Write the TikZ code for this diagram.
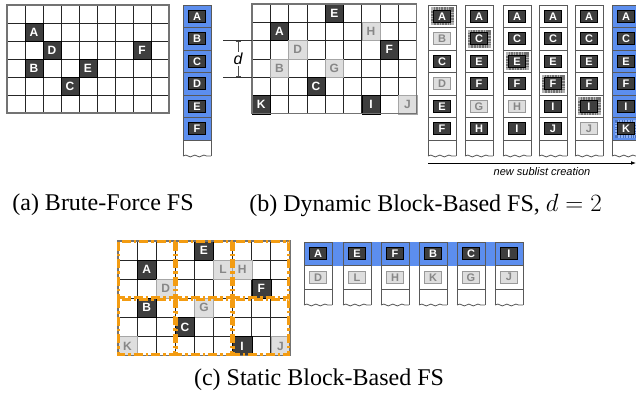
\documentclass[tikz,border=0pt]{standalone}
\usepackage{fontspec}
\setmainfont{Liberation Serif}
\setsansfont{Liberation Sans}
\usepackage{tikz}
\usetikzlibrary{decorations.pathmorphing,arrows.meta}
\definecolor{celldark}{RGB}{62,62,62}
\definecolor{lightfill}{RGB}{222,222,222}
\definecolor{lighttext}{RGB}{135,135,135}
\definecolor{fsblue}{RGB}{92,142,238}
\definecolor{blockorange}{RGB}{243,156,18}
\tikzstyle{gridlines} = [draw=black!85, line width=0.7pt]
\tikzstyle{gridframe} = [draw=black!55, line width=1.2pt]
\tikzstyle{gdark} = [fill=celldark, draw=black, text=white, font=\sffamily\bfseries\fontsize{12}{12}\selectfont, inner sep=0pt]
\tikzstyle{glight} = [fill=lightfill, draw=black!35, text=lighttext, font=\sffamily\bfseries\fontsize{12}{12}\selectfont, inner sep=0pt]
\tikzstyle{dk} = [fill=celldark, draw=black, text=white, font=\sffamily\bfseries\fontsize{11}{11}\selectfont, minimum width=17pt, minimum height=12pt, inner sep=0pt, line width=0.8pt]
\tikzstyle{lt} = [dk, fill=lightfill, draw=black!40, text=lighttext]
\tikzstyle{hd} = [dk, preaction={draw=black!30, line width=6pt}, preaction={draw=black!55, line width=6pt, dash pattern=on 0.6pt off 1pt}]
\tikzstyle{hb} = [dk, preaction={draw=fsblue!80!black, line width=6pt}, preaction={draw=fsblue!70, line width=6pt, dash pattern=on 0.6pt off 1pt}]
\tikzstyle{listcell} = [draw=black!65, line width=0.8pt]
\tikzstyle{blockline} = [draw=blockorange, line width=3pt, dash pattern=on 9pt off 3pt on 2.5pt off 3pt]
\tikzstyle{caption} = [inner sep=0pt, font=\fontsize{24}{28}\selectfont]

% name, x, y, row height, fill, rows, entries
\newcommand{\sublist}[7]{%
  \foreach \lbl/\kind [count=\idx] in {#7} {
    \draw[listcell, fill=#5] (#2,#3+\idx*#4-#4) rectangle ++(28,#4);
    \node[\kind] (#1-\lbl) at (#2+14,#3+\idx*#4-#4/2) {\lbl};
  }
  \draw[listcell] (#2,#3+#6*#4) -- ++(0,16) (#2+28,#3+#6*#4) -- ++(0,16);
  \draw[listcell, decorate, decoration={snake, amplitude=0.9pt, segment length=9pt}]
    (#2,#3+#6*#4+16) -- ++(28,0);
}

\begin{document}
\begin{tikzpicture}[x=1pt, y=-1pt]
\useasboundingbox (0,0) rectangle (636,398);

% (a) brute force
\begin{scope}[shift={(7,5)}, x=18pt, y=-18pt, every node/.append style={minimum size=18pt}]
  \foreach \i in {0,...,9} \draw[gridlines] (\i,0) -- (\i,6);
  \foreach \j in {0,...,6} \draw[gridlines] (0,\j) -- (9,\j);
  \foreach \lbl/\c/\rr/\kind in {A/1/1/gdark, D/2/2/gdark, F/7/2/gdark, B/1/3/gdark, E/4/3/gdark, C/3/4/gdark}
    \node[\kind] (ga-\lbl) at (\c+.5,\rr+.5) {\lbl};
  \draw[gridframe] (0,0) rectangle (9,6);
\end{scope}
\sublist{la}{183}{5}{22.5}{fsblue}{6}{A/dk,B/dk,C/dk,D/dk,E/dk,F/dk}

% (b) dynamic blocks
\begin{scope}[shift={(252,4)}, x=18.3pt, y=-18.3pt, every node/.append style={minimum size=18.3pt}]
  \foreach \i in {0,...,9} \draw[gridlines] (\i,0) -- (\i,6);
  \foreach \j in {0,...,6} \draw[gridlines] (0,\j) -- (9,\j);
  \foreach \lbl/\c/\rr/\kind in {E/4/0/gdark, A/1/1/gdark, H/6/1/glight, D/2/2/glight, F/7/2/gdark,
      B/1/3/glight, G/4/3/glight, C/3/4/gdark, K/0/5/gdark, I/6/5/gdark, J/8/5/glight}
    \node[\kind] (gb-\lbl) at (\c+.5,\rr+.5) {\lbl};
  \draw[gridframe] (0,0) rectangle (9,6);
\end{scope}
\coordinate (dup-l) at (223,40.6);
\coordinate (dup-r) at (252,40.6);
\coordinate (dlo-l) at (223,77.2);
\coordinate (dlo-r) at (252,77.2);
\coordinate (dup) at (238,40.6);
\coordinate (dlo) at (238,77.2);
\draw[black!80, line width=0.8pt] (dup-l) -- (dup-r) (dlo-l) -- (dlo-r);
\draw[black!70, line width=0.8pt, {Bar[width=5pt]}-{Bar[width=5pt]}] (dup) -- (dlo);
\node[fill=white, inner sep=1pt, font=\sffamily\itshape\fontsize{16}{16}\selectfont] (dlabel) at (238,59) {d};

\sublist{lb1}{428}{5}{22.5}{white}{6}{A/hd,B/lt,C/dk,D/lt,E/dk,F/dk}
\sublist{lb2}{465}{5}{22.5}{white}{6}{A/dk,C/hd,E/dk,F/dk,G/lt,H/dk}
\sublist{lb3}{503}{5}{22.5}{white}{6}{A/dk,C/dk,E/hd,F/dk,H/lt,I/dk}
\sublist{lb4}{539}{5}{22.5}{white}{6}{A/dk,C/dk,E/dk,F/hd,I/dk,J/dk}
\sublist{lb5}{575}{5}{22.5}{white}{6}{A/dk,C/dk,E/dk,F/dk,I/hd,J/lt}
\sublist{lb6}{612}{5}{22.5}{fsblue}{6}{A/dk,C/dk,E/dk,F/dk,I/dk,K/hb}

\coordinate (new-s) at (428,163);
\coordinate (new-e) at (636,163);
\draw[line width=0.8pt, -{Latex[length=5pt]}] (new-s) -- (new-e);
\node[font=\sffamily\itshape\fontsize{11}{11}\selectfont, inner sep=0pt] (newlabel) at (542,172) {new sublist creation};

% (c) static blocks
\begin{scope}[shift={(118,241)}, x=19.1pt, y=-19.1pt, every node/.append style={minimum size=19.1pt}]
  \foreach \i in {0,...,9} \draw[gridlines] (\i,0) -- (\i,6);
  \foreach \j in {0,...,6} \draw[gridlines] (0,\j) -- (9,\j);
  \foreach \lbl/\c/\rr/\kind in {E/4/0/gdark, A/1/1/gdark, L/5/1/glight, H/6/1/glight, D/2/2/glight, F/7/2/gdark,
      B/1/3/gdark, G/4/3/glight, C/3/4/gdark, K/0/5/glight, I/6/5/gdark, J/8/5/glight}
    \node[\kind] (gc-\lbl) at (\c+.5,\rr+.5) {\lbl};
  \draw[gridframe] (0,0) rectangle (9,6);
  \foreach \bx in {0,3,6}
    \foreach \by in {0,3}
      \draw[blockline] (\bx+.05,\by+.05) rectangle (\bx+2.95,\by+2.95);
\end{scope}

\fill[fsblue] (304,242) rectangle (523,265.5);
\sublist{lc1}{304}{242}{23.5}{none}{2}{A/dk,D/lt}
\sublist{lc2}{343}{242}{23.5}{none}{2}{E/dk,L/lt}
\sublist{lc3}{381}{242}{23.5}{none}{2}{F/dk,H/lt}
\sublist{lc4}{419}{242}{23.5}{none}{2}{B/dk,K/lt}
\sublist{lc5}{457}{242}{23.5}{none}{2}{C/dk,G/lt}
\sublist{lc6}{495}{242}{23.5}{none}{2}{I/dk,J/lt}

% captions
\node[caption] (cap-a) at (103,205) {(a) Brute-Force FS};
\node[caption] (cap-b) at (425.5,205) {(b) Dynamic Block-Based FS, $d=2$};
\node[caption] (cap-c) at (319,380) {(c) Static Block-Based FS};
\end{tikzpicture}
\end{document}
